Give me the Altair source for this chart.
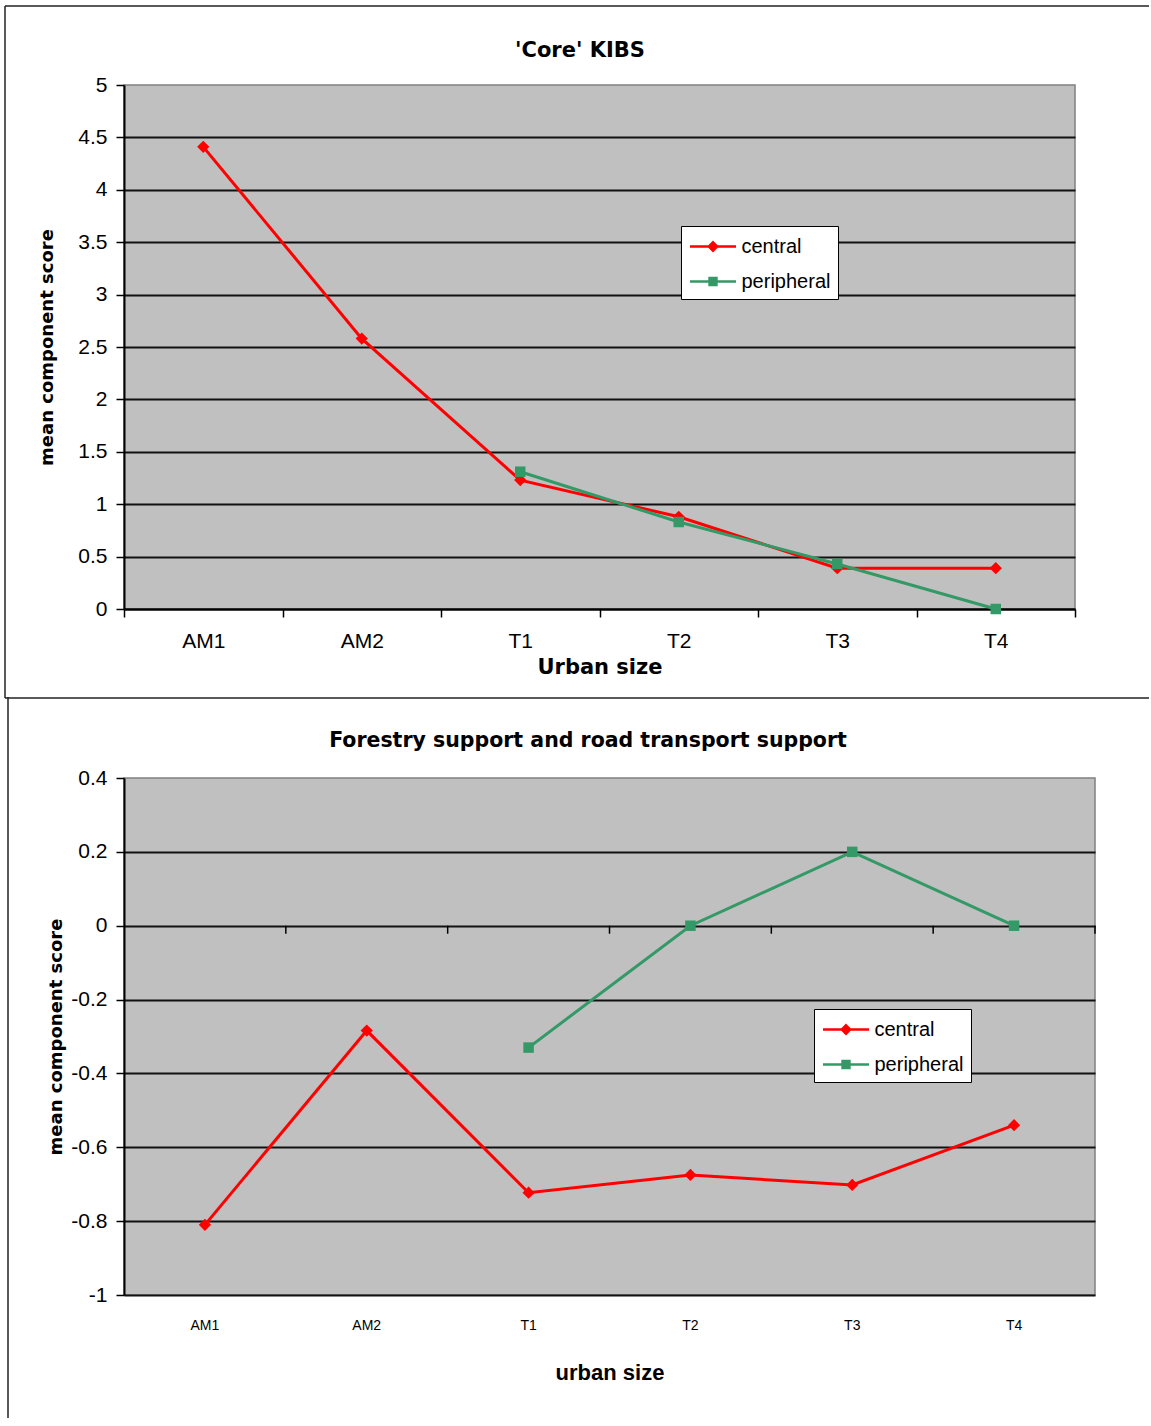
import altair as alt
import pandas as pd

# Categories on the x axis (urban size classes)
categories = ["AM1", "AM2", "T1", "T2", "T3", "T4"]

# Series definitions
series_names = ["central", "peripheral"]
series_colors = ["#ff0000", "#339966"]
series_shapes = ["diamond", "square"]
series_sizes = [150, 110]

# 'Core' KIBS: mean component score by urban size
kibs_central = [4.41, 2.58, 1.23, 0.88, 0.39, 0.39]
kibs_peripheral = [None, None, 1.31, 0.83, 0.43, 0.0]
kibs_ticks = [0, 0.5, 1, 1.5, 2, 2.5, 3, 3.5, 4, 4.5, 5]

# Forestry support and road transport support
forestry_central = [-0.81, -0.284, -0.723, -0.675, -0.702, -0.54]
forestry_peripheral = [None, None, -0.33, 0.0, 0.2, 0.0]
forestry_ticks = [-1, -0.8, -0.6, -0.4, -0.2, 0, 0.2, 0.4]


def long_table(central, peripheral):
    rows = []
    for cat, c, p in zip(categories, central, peripheral):
        if c is not None:
            rows.append({"category": cat, "series": "central", "score": c})
        if p is not None:
            rows.append({"category": cat, "series": "peripheral", "score": p})
    return pd.DataFrame(rows)


ONE_ROW = pd.DataFrame({"k": [0]})
CATS = pd.DataFrame({"category": categories})

# Legend symbols: a short line with the series marker in the middle
legend_symbol_paths = [
    "M-1,0L3,0M1,-0.36L1.36,0L1,0.36L0.64,0Z",
    "M-1,0L3,0M0.7,-0.3L1.3,-0.3L1.3,0.3L0.7,0.3Z",
]


def make_legend(lx, ly):
    return alt.Legend(
        title=None,
        orient="none",
        legendX=lx,
        legendY=ly,
        fillColor="white",
        strokeColor="black",
        padding=7.5,
        symbolSize=529,
        symbolStrokeWidth=2.5,
        symbolOpacity=1,
        labelOffset=27,
        rowPadding=12,
        labelFont="Liberation Sans",
        labelFontSize=20,
        labelColor="black",
    )


def text_mark(text, x, y, font, size):
    return alt.Chart(ONE_ROW).mark_text(
        text=text, font=font, fontSize=size, fontWeight="bold",
        align="center", baseline="middle", color="black",
    ).encode(x=alt.value(x), y=alt.value(y))


def hline(x1, x2, y):
    return alt.Chart(ONE_ROW).mark_rule(color="#222222", strokeWidth=1.5).encode(
        x=alt.value(x1), x2=alt.value(x2), y=alt.value(y))


def vline(x, y1, y2):
    return alt.Chart(ONE_ROW).mark_rule(color="#222222", strokeWidth=1.5).encode(
        x=alt.value(x), y=alt.value(y1), y2=alt.value(y2))


def x_enc(axis, **kw):
    return alt.X("category:N", sort=categories,
                 scale=alt.Scale(type="band", domain=categories, paddingInner=0, paddingOuter=0),
                 axis=axis, **kw)


def series_layers(data, x_axis, y_axis, y_domain, legend):
    color_scale = alt.Scale(domain=series_names, range=series_colors)
    legend_shape_scale = alt.Scale(domain=series_names, range=legend_symbol_paths)
    x = x_enc(x_axis)
    y = alt.Y("score:Q", scale=alt.Scale(domain=y_domain, nice=False, zero=False), axis=y_axis)
    base = alt.Chart(data)
    layers = [
        base.mark_line(strokeWidth=3).encode(
            x=x, y=y, color=alt.Color("series:N", scale=color_scale, legend=legend))
    ]
    for name, colour, shape, size in zip(series_names, series_colors, series_shapes, series_sizes):
        layers.append(
            base.transform_filter(alt.datum.series == name)
            .mark_point(filled=True, size=size, opacity=1, shape=shape, color=colour)
            .encode(x=x, y=y)
        )
    # transparent copy of the points that carries the legend (line + marker symbols)
    layers.append(
        base.mark_point(filled=False, opacity=0, strokeWidth=2.5).encode(
            x=x, y=y,
            color=alt.Color("series:N", scale=color_scale, legend=legend),
            fill=alt.Fill("series:N", scale=color_scale, legend=legend),
            shape=alt.Shape("series:N", scale=legend_shape_scale, legend=legend),
        )
    )
    return layers


def y_axis(values, top_value, title_padding, **kw):
    return alt.Axis(
        values=values,
        grid=True, gridColor="#111111", gridWidth=1.8,
        # the top edge of the plot keeps its grey border instead of a grid line
        gridOpacity={"condition": {"test": f"datum.value >= {top_value}", "value": 0}, "value": 1},
        tickSize=8, tickColor="black", tickWidth=1.5,
        domainColor="black", domainWidth=2,
        labelFont="Liberation Sans", labelFontSize=21, labelColor="black", labelPadding=9,
        title="mean component score", titleFont="DejaVu Sans", titleFontWeight="bold",
        titleFontSize=18, titleColor="black", titlePadding=title_padding,
        **kw,
    )


# ---- top panel: 'Core' KIBS ----
top_data = long_table(kibs_central, kibs_peripheral)
top_x_axis = alt.Axis(
    tickBand="extent", labelAngle=0, grid=False,
    tickSize=8, tickColor="black", tickWidth=1.5, domainColor="black", domainWidth=2,
    labelFont="Liberation Sans", labelFontSize=21, labelColor="black", labelPadding=13,
    title="Urban size", titleFont="DejaVu Sans", titleFontWeight="bold",
    titleFontSize=21, titleColor="black", titlePadding=5,
)
top_y_axis = y_axis(kibs_ticks, 4.99, 21, format=".1~f")

top = alt.layer(
    *series_layers(top_data, top_x_axis, top_y_axis, [0, 5], make_legend(557, 141)),
    text_mark("'Core' KIBS", 456, -34, "DejaVu Sans", 21),
    hline(-119, 1025, -79),
    vline(-119, -79, 613),
    hline(-119, 1025, 613),
).properties(width=951, height=524)

# ---- bottom panel: forestry support and road transport support ----
bottom_data = long_table(forestry_central, forestry_peripheral)
bottom_x_axis = alt.Axis(
    ticks=False, tickSize=0, domain=False, labelAngle=0, grid=False,
    labelFont="Liberation Sans", labelFontSize=14, labelColor="black", labelPadding=23,
    title="urban size", titleFont="Liberation Sans", titleFontWeight="bold",
    titleFontSize=22, titleColor="black", titlePadding=30,
)
bottom_y_axis = y_axis(
    forestry_ticks, 0.39, 5,
    labelExpr="replace(format(datum.value, '.1~f'), '\u2212', '-')",
)

# small category-boundary ticks hanging from the zero line
zero_ticks = alt.Chart(CATS).mark_rule(color="black", strokeWidth=1.5, y2Offset=8).encode(
    x=x_enc(bottom_x_axis, bandPosition=1),
    y=alt.YDatum(0, axis=bottom_y_axis),
    y2=alt.Y2Datum(0),
)

bottom = alt.layer(
    *series_layers(bottom_data, bottom_x_axis, bottom_y_axis, [-1, 0.4], make_legend(690, 231)),
    zero_ticks,
    text_mark("Forestry support and road transport support", 464, -37, "DejaVu Sans", 20.5),
    vline(-116, -81, 640),
).properties(width=971, height=517)

chart = alt.concat(
    top, bottom, columns=1, spacing=-5, align="none", bounds="full"
).resolve_scale(
    x="independent", y="independent", color="independent",
    fill="independent", shape="independent"
).resolve_legend(
    color="independent", fill="independent", shape="independent"
).properties(
    padding={"left": 3, "top": 4, "right": 0, "bottom": 0},
    background="white",
).configure_view(
    fill="#c0c0c0", stroke="#808080", strokeWidth=1.5
)

chart.save("out.html", embed_options={"renderer": "svg", "actions": False})
